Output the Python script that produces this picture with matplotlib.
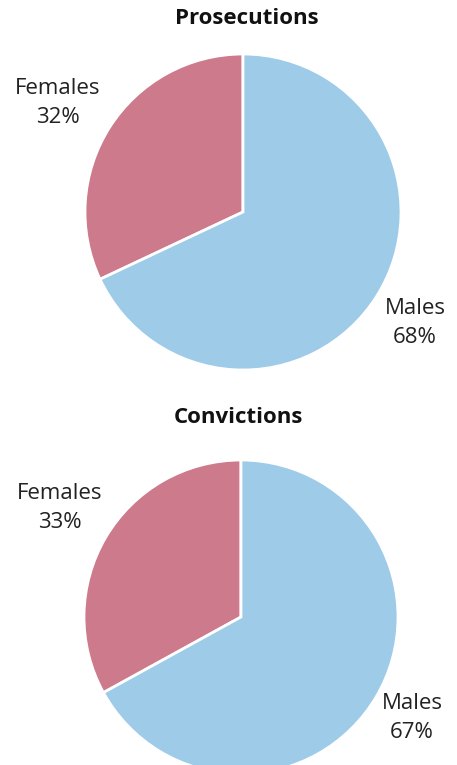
import matplotlib.pyplot as plt

plt.rcParams['font.family'] = ['Open Sans', 'DejaVu Sans']

# data
titles = ["Prosecutions", "Convictions"]
groups = ["Females", "Males"]
shares = [[32, 68], [33, 67]]
colors = ["#cd7a8c", "#9dcbe8"]

W, H = 457, 765
fig = plt.figure(figsize=(W / 100, H / 100), dpi=100)

# pie geometry in pixels: (cx, cy, r)
geo = [(243, 212, 158), (241, 617, 157)]
title_pos = [(247, 18), (238, 418)]
fem_pos = [(58, 103), (60, 508)]
male_pos = [(415, 323), (412, 718)]

for i in range(2):
    cx, cy, r = geo[i]
    ax = fig.add_axes([(cx - r) / W, (H - cy - r) / H, 2 * r / W, 2 * r / H])
    ax.pie(shares[i], colors=colors, startangle=90, counterclock=True,
           wedgeprops=dict(edgecolor="white", linewidth=2))
    ax.set_xlim(-1, 1)
    ax.set_ylim(-1, 1)
    ax.set_aspect("equal")
    ax.axis("off")

    tx, ty = title_pos[i]
    fig.text(tx / W, 1 - ty / H, titles[i], ha="center", va="center",
             fontsize=16, fontweight="bold", color="#111111")
    fx, fy = fem_pos[i]
    fig.text(fx / W, 1 - fy / H, f"{groups[0]}\n{shares[i][0]}%", ha="center",
             va="center", fontsize=16, color="#222222", linespacing=1.55)
    mx, my = male_pos[i]
    fig.text(mx / W, 1 - my / H, f"{groups[1]}\n{shares[i][1]}%", ha="center",
             va="center", fontsize=16, color="#222222", linespacing=1.55)

fig.savefig("out.png", dpi=100)
